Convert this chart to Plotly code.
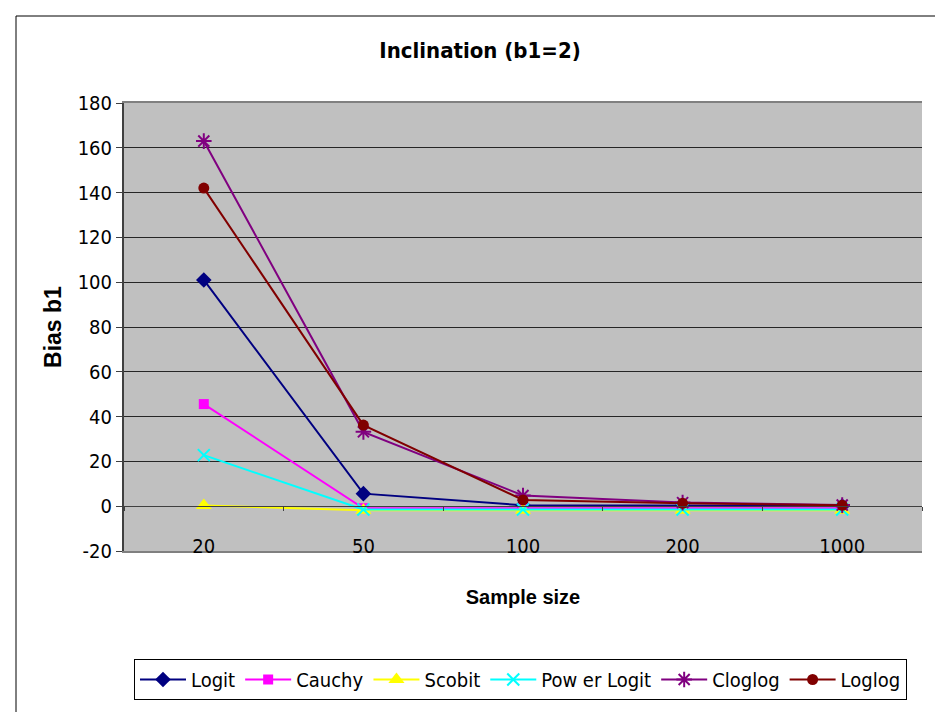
import plotly.graph_objects as go

# Sample sizes (category axis) and bias of b1 for each link function
sample_sizes = ["20", "50", "100", "200", "1000"]
logit = [101.0, 5.6, 0.4, 0.3, 0.1]
cauchy = [45.6, -0.9, -0.9, -0.9, -0.9]
scobit = [0.3, -1.8, -1.8, -1.8, -1.8]
power_logit = [22.8, -1.5, -1.5, -1.5, -1.5]
cloglog = [163.0, 33.2, 4.8, 1.6, 0.5]
loglog = [142.0, 36.2, 2.8, 1.3, 0.4]

y_ticks = list(range(-20, 181, 20))
y_tick_text = [str(v) for v in y_ticks]
y_min, y_max = -20, 180

series = [
    ("Logit", logit, "#000080", "diamond", 12),
    ("Cauchy", cauchy, "#FF00FF", "square", 10),
    ("Scobit", scobit, "#FFFF00", "triangle-up", 14),
    ("Pow er Logit", power_logit, "#00FFFF", "x-thin-open", 12),
    ("Cloglog", cloglog, "#800080", "asterisk-open", 13),
    ("Loglog", loglog, "#800000", "circle", 11),
]

NARROW = "DejaVu Sans Condensed, Liberation Sans Narrow, Arial Narrow, Liberation Sans, sans-serif"
WIDE = "Liberation Sans, Arial, sans-serif"

fig = go.Figure()
for name, vals, color, symbol, size in series:
    open_sym = symbol.endswith("-open")
    fig.add_trace(go.Scatter(
        x=sample_sizes, y=vals, name=name, mode="lines+markers",
        line=dict(color=color, width=2),
        marker=dict(symbol=symbol, size=size, color=color,
                    line=dict(color=color, width=2 if open_sym else 0)),
    ))

# category axis drawn where it crosses y = 0: labels at categories, ticks between
fig.add_trace(go.Scatter(x=sample_sizes, y=[None] * len(sample_sizes),
                         xaxis="x2", showlegend=False, hoverinfo="skip"))

zero_pos = (0 - y_min) / (y_max - y_min)

fig.update_layout(
    width=935, height=712,
    margin=dict(l=124, r=13, t=103, b=161),
    paper_bgcolor="white",
    plot_bgcolor="#C0C0C0",
    font=dict(family=NARROW, color="black", size=20),
    title=dict(text="<b>Inclination (b1=2)</b>", x=480 / 935, xanchor="center",
               y=1 - 50 / 712, yanchor="middle",
               font=dict(family=NARROW, size=22, color="black")),
    xaxis=dict(
        type="category", range=[-0.5, len(sample_sizes) - 0.5],
        showgrid=False, zeroline=False, showticklabels=False,
        showline=True, linecolor="#808080", linewidth=2, mirror=True,
        ticks="",
        title=dict(text="<b>Sample size</b>", standoff=38,
                   font=dict(family=WIDE, size=20, color="black")),
    ),
    xaxis2=dict(
        type="category", range=[-0.5, len(sample_sizes) - 0.5],
        overlaying="x", anchor="free", position=zero_pos,
        showline=True, linecolor="#404040", linewidth=1,
        ticks="outside", tickson="boundaries",
        ticklen=4, tickcolor="#404040",
        showticklabels=True, ticklabelstandoff=22,
        tickfont=dict(family=NARROW, size=20, color="black"),
        showgrid=False, zeroline=False,
    ),
    yaxis=dict(
        range=[y_min, y_max], tickmode="array",
        tickvals=y_ticks, ticktext=y_tick_text,
        showgrid=True, gridcolor="#262626", gridwidth=1,
        zeroline=False,
        showline=True, linecolor="#404040", linewidth=2,
        ticks="outside", ticklen=6, tickcolor="#404040",
        tickfont=dict(family=NARROW, size=20, color="black"),
        title=dict(text="<b>Bias b1</b>", standoff=10,
                   font=dict(family=WIDE, size=23, color="black")),
    ),
    legend=dict(
        orientation="h", x=(134 - 124) / 798, xanchor="left",
        y=(551 - 659) / 448, yanchor="top",
        bordercolor="black", borderwidth=1, bgcolor="white",
        font=dict(family=NARROW, size=20, color="black"),
        itemwidth=46, tracegroupgap=0,
    ),
    shapes=[dict(
        type="rect", xref="paper", yref="paper",
        x0=(16 - 124) / 798, x1=1.2, y0=-0.6, y1=(551 - 16) / 448,
        line=dict(color="black", width=1), fillcolor="rgba(0,0,0,0)",
        layer="below",
    )],
)

fig.write_html("out.html")
